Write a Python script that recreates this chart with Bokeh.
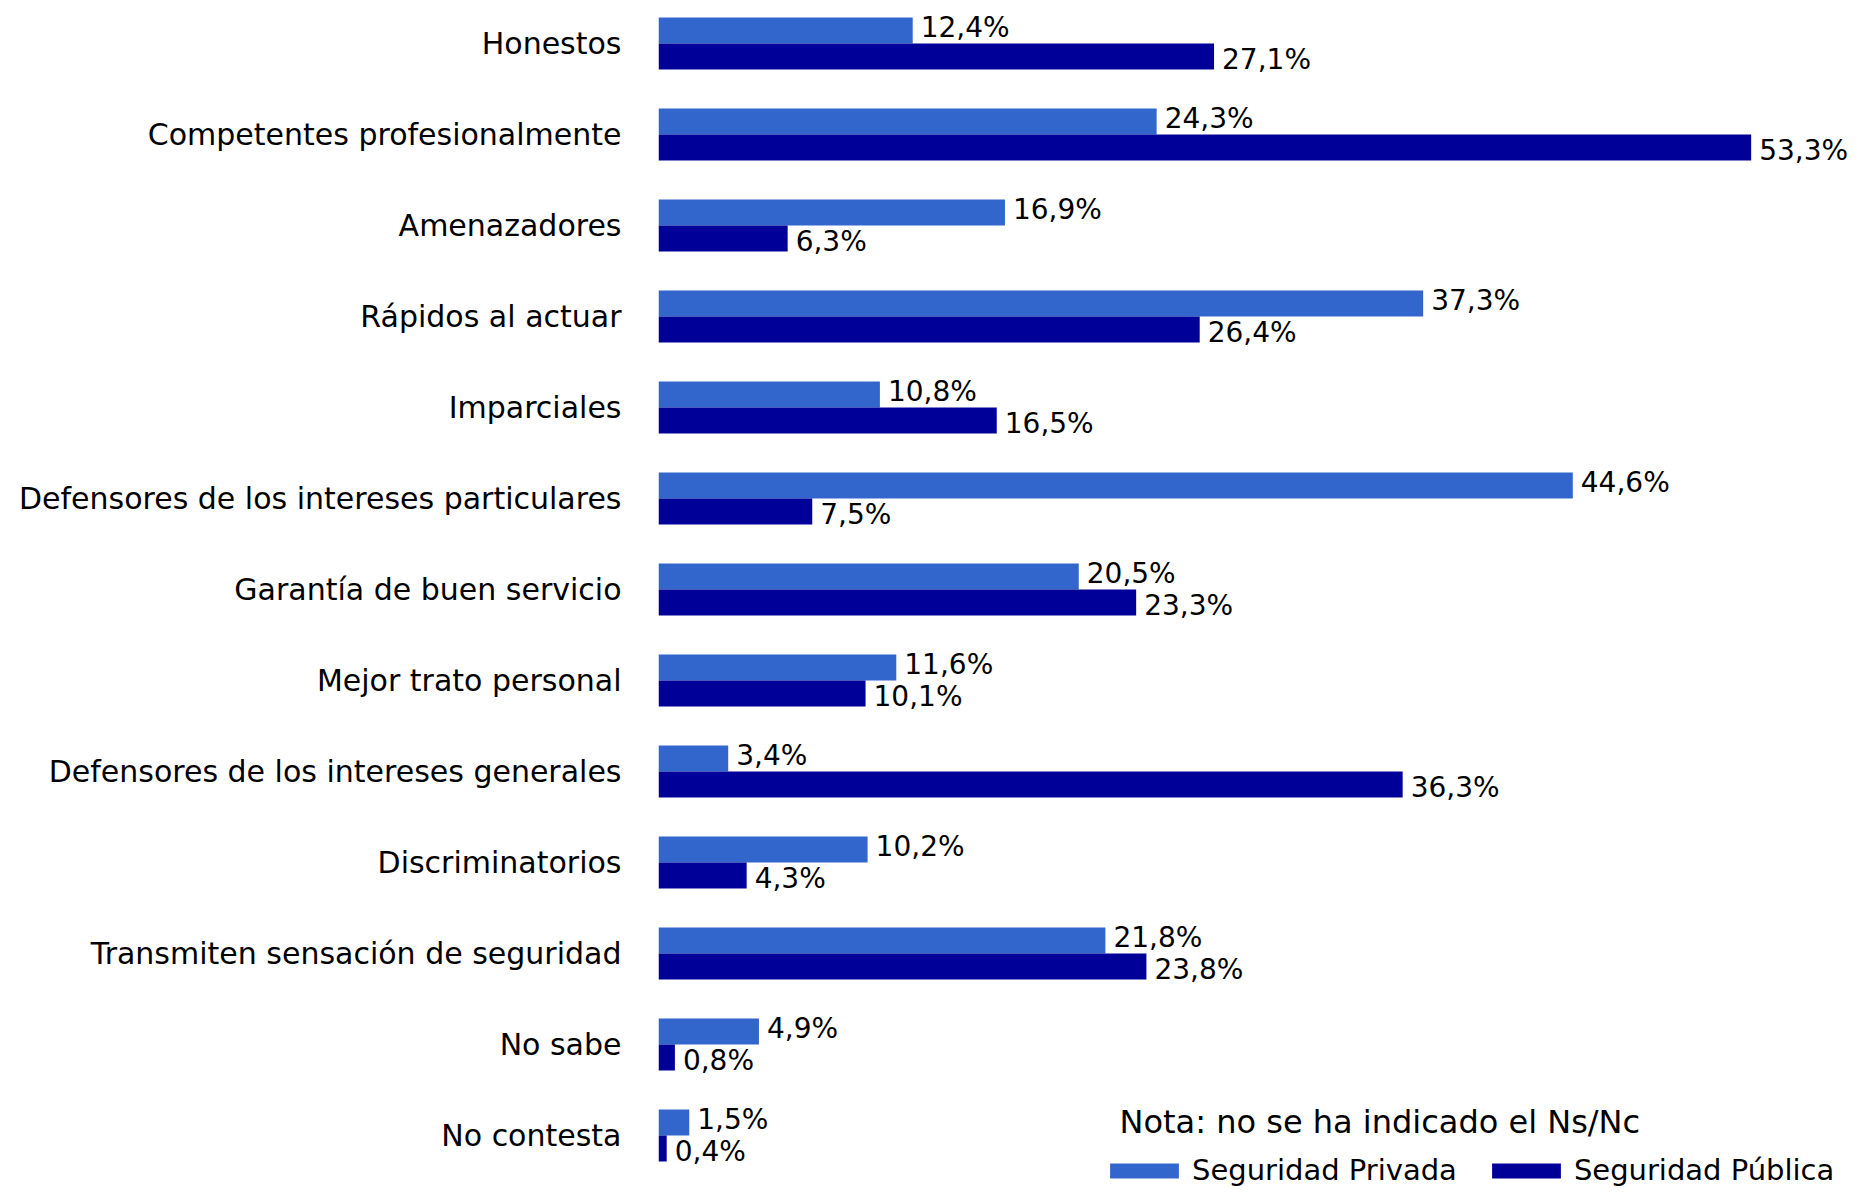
from bokeh.plotting import figure
from bokeh.models import ColumnDataSource, Range1d, FixedTicker, Legend, LegendItem, Label
from bokeh.transform import dodge
from bokeh.core.properties import value
from bokeh.embed import file_html
from bokeh.resources import INLINE

categories = [
    "Honestos",
    "Competentes profesionalmente",
    "Amenazadores",
    "Rápidos al actuar",
    "Imparciales",
    "Defensores de los intereses particulares",
    "Garantía de buen servicio",
    "Mejor trato personal",
    "Defensores de los intereses generales",
    "Discriminatorios",
    "Transmiten sensación de seguridad",
    "No sabe",
    "No contesta",
]
privada = [12.4, 24.3, 16.9, 37.3, 10.8, 44.6, 20.5, 11.6, 3.4, 10.2, 21.8, 4.9, 1.5]
publica = [27.1, 53.3, 6.3, 26.4, 16.5, 7.5, 23.3, 10.1, 36.3, 4.3, 23.8, 0.8, 0.4]
series_names = ["Seguridad Privada", "Seguridad Pública"]
note_text = "Nota: no se ha indicado el Ns/Nc"

LIGHT = "#3366CC"
DARK = "#000099"
FONT = "DejaVu Sans"

idx = list(range(len(categories)))
src = ColumnDataSource(dict(
    idx=idx,
    priv=privada,
    pub=publica,
    priv_lbl=[f"{v:.1f}".replace(".", ",") + "%" for v in privada],
    pub_lbl=[f"{v:.1f}".replace(".", ",") + "%" for v in publica],
))

W, H = 1859, 1187
p = figure(width=W, height=H, output_backend="svg", toolbar_location=None,
           x_range=Range1d(0, 58.585), y_range=Range1d(12.571, -0.4725),
           x_axis_location=None, min_border_left=658, min_border_right=0,
           min_border_top=0, min_border_bottom=0)
p.outline_line_color = None
p.grid.visible = False
p.background_fill_color = "white"
p.border_fill_color = "white"

bw = 0.286
off = 0.143
r1 = p.hbar(y=dodge("idx", -off), right="priv", left=0, height=bw, source=src,
            fill_color=LIGHT, line_color=None)
r2 = p.hbar(y=dodge("idx", off), right="pub", left=0, height=bw, source=src,
            fill_color=DARK, line_color=None)

p.text(x="priv", y=dodge("idx", -off), text="priv_lbl", source=src, x_offset=8, y_offset=-3,
       text_baseline="middle", text_align="left", text_font=value(FONT),
       text_font_size="28px", text_color="#000000")
p.text(x="pub", y=dodge("idx", off), text="pub_lbl", source=src, x_offset=8, y_offset=3,
       text_baseline="middle", text_align="left", text_font=value(FONT),
       text_font_size="28px", text_color="#000000")

ax = p.yaxis[0]
ax.ticker = FixedTicker(ticks=idx)
ax.major_label_overrides = {i: c for i, c in enumerate(categories)}
ax.axis_line_color = None
ax.major_tick_line_color = None
ax.minor_tick_line_color = None
ax.major_label_standoff = 31
ax.major_label_text_font = FONT
ax.major_label_text_font_size = "30px"
ax.major_label_text_color = "#000000"

p.add_layout(Label(x=22.49, y=11.85, text=note_text, text_font=FONT, text_font_size="32px",
                   text_baseline="middle", text_color="#000000"))

legend = Legend(items=[LegendItem(label=series_names[0], renderers=[r1]),
                       LegendItem(label=series_names[1], renderers=[r2])],
                location=(443, 0), orientation="horizontal",
                glyph_width=86, glyph_height=19, label_height=30,
                label_standoff=5, spacing=26, padding=0, margin=0,
                border_line_color=None, background_fill_alpha=0,
                label_text_font=FONT, label_text_font_size="29px",
                label_text_color="#000000")
p.add_layout(legend)

open("out.html", "w").write(file_html(p, INLINE))
